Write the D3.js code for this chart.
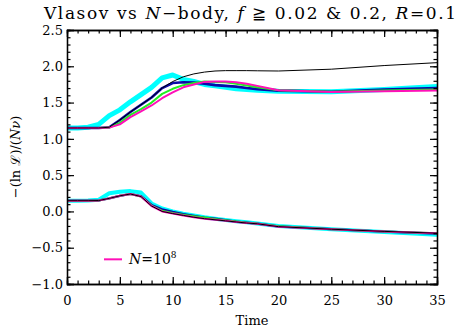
<!DOCTYPE html>
<html lang="en">
<head>
<meta charset="UTF-8">
<title>Vlasov vs N-body</title>
<script src="https://d3js.org/d3.v7.min.js"></script>
<style>
  body { margin: 0; background: #fff; }
  svg { display: block; font-family: "DejaVu Serif", serif; }
</style>
</head>
<body>
<div id="chart"></div>
<script>
  // sample times (shared by every run)
  const times = [0, 1, 2, 3, 4, 5, 6, 7, 8, 9, 10, 11, 12, 13, 14, 15, 16, 17, 18, 20, 25, 30, 35];

  // upper branch
  const upCyan    = [1.15, 1.15, 1.16, 1.20, 1.32, 1.40, 1.51, 1.61, 1.71, 1.84, 1.88, 1.82, 1.79, 1.75, 1.73, 1.71, 1.69, 1.68, 1.67, 1.655, 1.65, 1.68, 1.72];
  const upBlue    = [1.15, 1.15, 1.15, 1.15, 1.16, 1.26, 1.37, 1.47, 1.57, 1.70, 1.77, 1.78, 1.775, 1.76, 1.74, 1.73, 1.72, 1.70, 1.685, 1.665, 1.65, 1.68, 1.70];
  const upGreen   = [1.15, 1.15, 1.15, 1.15, 1.155, 1.22, 1.33, 1.41, 1.50, 1.62, 1.69, 1.74, 1.77, 1.79, 1.785, 1.78, 1.76, 1.735, 1.71, 1.67, 1.65, 1.665, 1.68];
  const upMagenta = [1.15, 1.15, 1.15, 1.15, 1.155, 1.20, 1.30, 1.38, 1.46, 1.56, 1.64, 1.71, 1.75, 1.785, 1.79, 1.79, 1.78, 1.76, 1.73, 1.67, 1.645, 1.655, 1.665];
  const upBlack   = [1.15, 1.15, 1.15, 1.15, 1.16, 1.26, 1.37, 1.47, 1.57, 1.70, 1.79, 1.855, 1.895, 1.92, 1.935, 1.94, 1.94, 1.94, 1.938, 1.935, 1.96, 2.01, 2.05];

  // lower branch
  const loCyan    = [0.148, 0.148, 0.15, 0.16, 0.25, 0.27, 0.28, 0.26, 0.11, 0.04, 0.0, -0.03, -0.055, -0.08, -0.10, -0.118, -0.135, -0.15, -0.165, -0.20, -0.245, -0.285, -0.32];
  const loBlue    = [0.148, 0.148, 0.148, 0.15, 0.18, 0.215, 0.24, 0.21, 0.09, 0.03, -0.005, -0.035, -0.06, -0.085, -0.10, -0.12, -0.14, -0.155, -0.168, -0.205, -0.245, -0.278, -0.305];
  const loGreen   = [0.148, 0.148, 0.148, 0.15, 0.18, 0.215, 0.24, 0.205, 0.08, 0.01, -0.02, -0.045, -0.065, -0.085, -0.105, -0.122, -0.14, -0.155, -0.168, -0.205, -0.245, -0.275, -0.30];
  const loMagenta = [0.148, 0.148, 0.148, 0.15, 0.18, 0.215, 0.24, 0.205, 0.075, 0.0, -0.03, -0.055, -0.08, -0.10, -0.115, -0.13, -0.145, -0.16, -0.17, -0.21, -0.245, -0.275, -0.30];
  const loBlack   = [0.148, 0.148, 0.148, 0.15, 0.18, 0.215, 0.24, 0.205, 0.075, 0.0, -0.03, -0.055, -0.08, -0.10, -0.115, -0.13, -0.145, -0.16, -0.17, -0.21, -0.245, -0.275, -0.30];

  const xMajor = [0, 5, 10, 15, 20, 25, 30, 35];
  const yMajor = [-1.0, -0.5, 0.0, 0.5, 1.0, 1.5, 2.0, 2.5];

  const width = 459, height = 327;
  const margin = { top: 30, right: 22, bottom: 43, left: 67 };
  const iw = width - margin.left - margin.right;
  const ih = height - margin.top - margin.bottom;

  const x = d3.scaleLinear().domain([0, 35]).range([0, iw]);
  const y = d3.scaleLinear().domain([-1.0, 2.5]).range([ih, 0]);

  const svg = d3.select("#chart").append("svg")
      .attr("width", width)
      .attr("height", height);

  const g = svg.append("g")
      .attr("transform", `translate(${margin.left},${margin.top})`);

  const line = d3.line()
      .x(d => x(d[0]))
      .y(d => y(d[1]));

  const series = [
    { vals: upCyan, color: "#00ffff", w: 5 },
    { vals: loCyan, color: "#00ffff", w: 4 },
    { vals: upBlue, color: "#0a0aa8", w: 2.6 },
    { vals: loBlue, color: "#0a0aa8", w: 2.2 },
    { vals: upGreen, color: "#22ee22", w: 2 },
    { vals: loGreen, color: "#22ee22", w: 2 },
    { vals: upMagenta, color: "#ff10b8", w: 2 },
    { vals: loMagenta, color: "#ff10b8", w: 2 },
    { vals: upBlack, color: "#000", w: 1 },
    { vals: loBlack, color: "#000", w: 1 }
  ];

  g.append("clipPath").attr("id", "plotclip")
    .append("rect").attr("width", iw).attr("height", ih);

  g.append("g").attr("clip-path", "url(#plotclip)")
    .selectAll("path")
    .data(series)
    .enter().append("path")
      .attr("d", s => line(times.map((t, i) => [t, s.vals[i]])))
      .attr("fill", "none")
      .attr("stroke", d => d.color)
      .attr("stroke-width", d => d.w)
      .attr("stroke-linejoin", "round");

  // axes, ticks pointing inwards on all four sides
  const xMinor = d3.range(0, 36, 1);
  const yMinor = d3.range(-10, 26, 1).map(v => v / 10);

  function styleAxis(sel) {
    sel.selectAll("path.domain").attr("stroke", "#000").attr("stroke-width", 1.3);
    sel.selectAll(".tick line").attr("stroke", "#000").attr("stroke-width", 1.2);
    sel.selectAll("text").attr("fill", "#000").style("font-size", "13px")
       .style("font-family", "'DejaVu Serif', serif");
  }

  g.append("g").attr("transform", `translate(0,${ih})`)
    .call(d3.axisBottom(x).tickValues(xMinor).tickSize(-3.5).tickFormat(""))
    .call(styleAxis);
  g.append("g").attr("transform", `translate(0,${ih})`)
    .call(d3.axisBottom(x).tickValues(xMajor).tickSize(-7).tickPadding(12).tickFormat(d3.format("d")))
    .call(styleAxis);

  g.append("g")
    .call(d3.axisTop(x).tickValues(xMinor).tickSize(-3.5).tickFormat(""))
    .call(styleAxis);
  g.append("g")
    .call(d3.axisTop(x).tickValues(xMajor).tickSize(-7).tickFormat(""))
    .call(styleAxis);

  g.append("g")
    .call(d3.axisLeft(y).tickValues(yMinor).tickSize(-3.5).tickFormat(""))
    .call(styleAxis);
  g.append("g")
    .call(d3.axisLeft(y).tickValues(yMajor).tickSize(-7).tickPadding(4).tickFormat(d3.format(".1f")))
    .call(styleAxis);

  g.append("g").attr("transform", `translate(${iw},0)`)
    .call(d3.axisRight(y).tickValues(yMinor).tickSize(-3.5).tickFormat(""))
    .call(styleAxis);
  g.append("g").attr("transform", `translate(${iw},0)`)
    .call(d3.axisRight(y).tickValues(yMajor).tickSize(-7).tickFormat(""))
    .call(styleAxis);

  // legend
  const legend = g.append("g").attr("transform", `translate(${x(3.5)},${y(-0.66)})`);
  legend.append("line")
    .attr("x1", 0).attr("x2", 18)
    .attr("stroke", "#ff10b8").attr("stroke-width", 2);
  const lt = legend.append("text")
    .attr("x", 25).attr("y", 5)
    .style("font-size", "14px");
  lt.append("tspan").style("font-style", "italic").text("N");
  lt.append("tspan").text("=10");
  lt.append("tspan").attr("dy", -6).style("font-size", "9px").text("8");

  // title
  const title = svg.append("text")
    .attr("x", 44)
    .attr("y", 19)
    .attr("textLength", 412)
    .attr("lengthAdjust", "spacing")
    .style("font-size", "17px");
  title.append("tspan").text("Vlasov vs ");
  title.append("tspan").style("font-style", "italic").text("N");
  title.append("tspan").text("\u2212body, ");
  title.append("tspan").style("font-style", "italic").text("f");
  title.append("tspan").text(" \u2267 0.02 & 0.2, ");
  title.append("tspan").style("font-style", "italic").text("R");
  title.append("tspan").text("=0.1");

  // axis labels
  svg.append("text")
    .attr("x", margin.left + iw / 2)
    .attr("y", 325)
    .attr("text-anchor", "middle")
    .style("font-size", "13px")
    .text("Time");

  const yl = svg.append("text")
    .attr("transform", `translate(20,${margin.top + ih / 2}) rotate(-90)`)
    .attr("text-anchor", "middle")
    .style("font-size", "13px");
  yl.append("tspan").text("\u2212(ln \u2112)/(");
  yl.append("tspan").style("font-style", "italic").text("N\u03bd");
  yl.append("tspan").text(")");
</script>
</body>
</html>
